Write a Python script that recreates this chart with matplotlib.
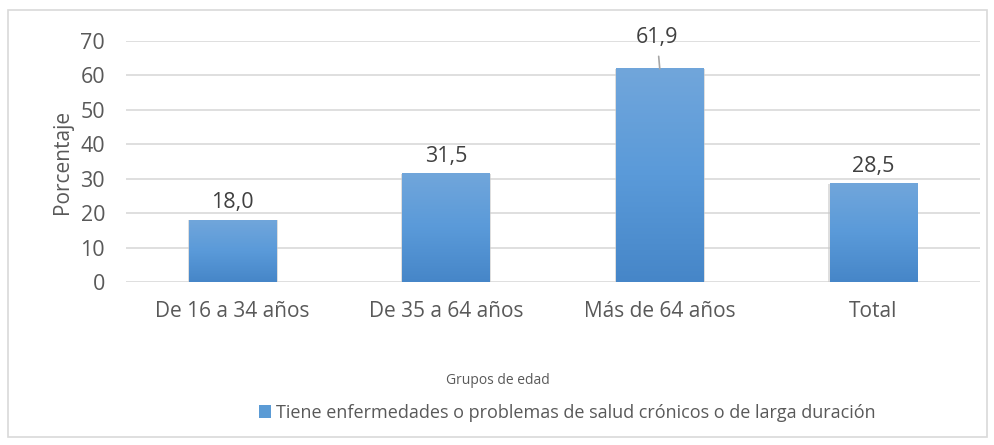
import numpy as np
from matplotlib import pyplot as plt
from matplotlib.colors import LinearSegmentedColormap
from matplotlib.patches import Rectangle, Patch

plt.rcParams['font.family'] = ['Open Sans', 'DejaVu Sans']

grupos = ['De 16 a 34 años', 'De 35 a 64 años', 'Más de 64 años', 'Total']
valores = [18.0, 31.5, 61.9, 28.5]
etiquetas = ['18,0', '31,5', '61,9', '28,5']
serie = 'Tiene enfermedades o problemas de salud crónicos o de larga duración'

gris_texto = '#595959'
grad = LinearSegmentedColormap.from_list('azul', ['#4686c8', '#5a9ad9', '#71a6db'])

fig = plt.figure(figsize=(9.95, 4.45), dpi=100)
ax = fig.add_axes([0.1266, 0.3663, 0.8584, 0.5416])

x = np.arange(len(grupos))
ancho = 0.41
gradiente = np.linspace(0, 1, 256).reshape(-1, 1)
for xi, v in zip(x, valores):
    # sombra suave
    ax.add_patch(Rectangle((xi - ancho / 2 - 0.006, -0.4), ancho + 0.012, v + 0.4,
                           facecolor='#c8c8c8', edgecolor='none', alpha=0.6, zorder=2))
    ax.imshow(gradiente, cmap=grad, origin='lower', aspect='auto',
              extent=[xi - ancho / 2, xi + ancho / 2, 0, v], zorder=3)

for xi, v, t in zip(x, valores, etiquetas):
    if v > 60:
        ax.annotate(t, (xi, v), xytext=(-2, 15), textcoords='offset points',
                    ha='center', va='bottom', fontsize=15.5, color='#404040',
                    arrowprops=dict(arrowstyle='-', color='#a6a6a6', lw=1.2,
                                    shrinkA=4, shrinkB=0))
    else:
        ax.annotate(t, (xi, v), xytext=(0, 5), textcoords='offset points',
                    ha='center', va='bottom', fontsize=15.5, color='#404040')

ax.set_xlim(-0.5, len(grupos) - 0.5)
ax.set_ylim(0, 70)
ax.set_yticks(range(0, 71, 10))
ax.set_xticks(x)
ax.set_xticklabels(grupos)
ax.tick_params(axis='both', length=0, labelcolor=gris_texto)
ax.tick_params(axis='x', pad=14, labelsize=15)
ax.tick_params(axis='y', pad=15, labelsize=15.5)
ax.grid(axis='y', color='#d9d9d9', lw=1.2, zorder=0)
ax.set_axisbelow(True)
for s in ax.spines.values():
    s.set_visible(False)
ax.set_ylabel('Porcentaje', fontsize=15, color=gris_texto, labelpad=5)

fig.text(0.5, 0.146, 'Grupos de edad', ha='center', va='center',
         fontsize=10, color=gris_texto)

leg = fig.legend(handles=[Patch(facecolor='#5b9bd5', edgecolor='none', label=serie)],
                 loc='center', bbox_to_anchor=(0.57, 0.073), frameon=False,
                 handlelength=0.7, handleheight=0.7, handletextpad=0.25,
                 fontsize=13)
for t in leg.get_texts():
    t.set_color(gris_texto)

fig.patches.append(Rectangle((0.008, 0.018), 0.984, 0.96, transform=fig.transFigure,
                             fill=False, edgecolor='#d9d9d9', lw=1.2))

fig.savefig('out.png', dpi=100)
